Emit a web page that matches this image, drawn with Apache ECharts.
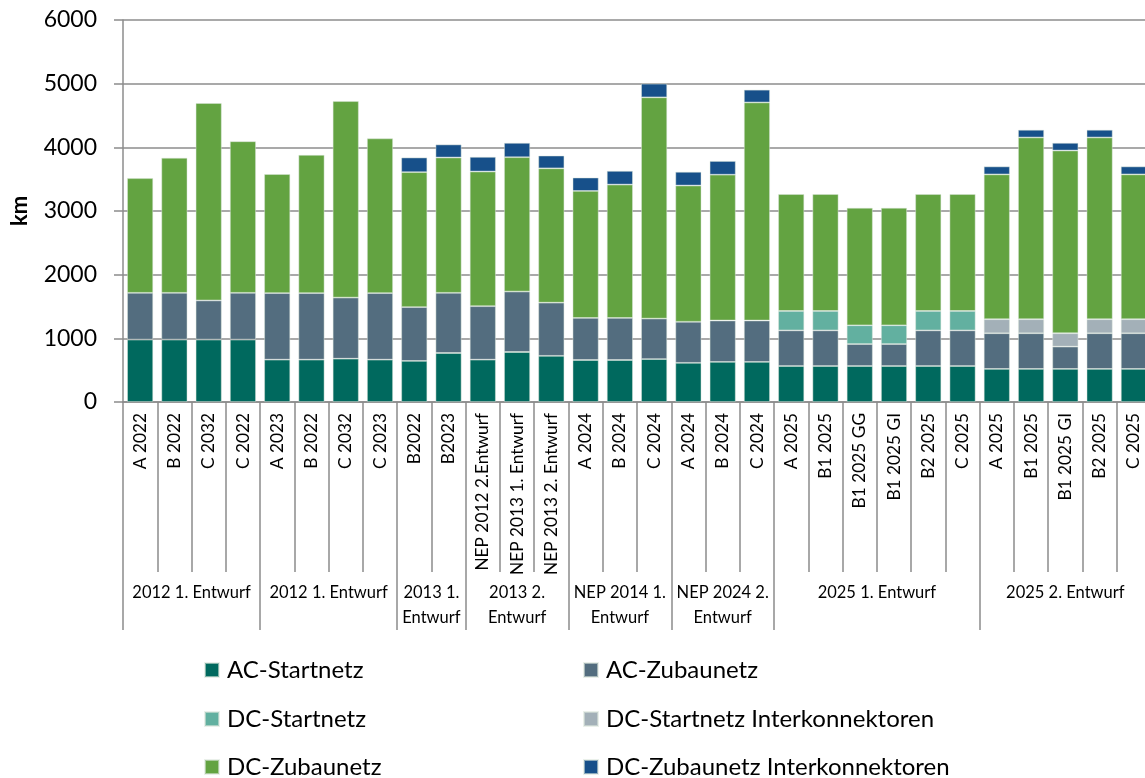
<!DOCTYPE html>
<html>
<head>
<meta charset="utf-8">
<script src="https://cdn.jsdelivr.net/npm/echarts@6/dist/echarts.min.js"></script>
<style>
html,body{margin:0;padding:0;background:#fff;}
#chart{width:1145px;height:778px;}
</style>
</head>
<body>
<div id="chart"></div>
<script>
const categories = ["A 2022","B 2022","C 2032","C 2022","A 2023","B 2022","C 2032","C 2023","B2022","B2023","NEP 2012 2.Entwurf","NEP 2013 1. Entwurf","NEP 2013 2. Entwurf","A 2024","B 2024","C 2024","A 2024","B 2024","C 2024","A 2025","B1 2025","B1 2025 GG","B1 2025 GI","B2 2025","C 2025","A 2025","B1 2025","B1 2025 GI","B2 2025","C 2025"];

const groupNames = ["2012 1. Entwurf","2012 1. Entwurf","2013 1.\nEntwurf","2013 2.\nEntwurf","NEP 2014 1.\nEntwurf","NEP 2024 2.\nEntwurf","2025 1. Entwurf","2025 2. Entwurf"];
const groupBounds = [0,4,8,10,13,16,19,25,30];

const acStart = [980,980,980,980,665,665,680,665,645,770,665,785,725,660,660,675,615,630,630,565,565,565,565,565,565,520,520,520,520,520];
const acZubau = [735,735,615,735,1045,1045,960,1045,845,945,840,950,835,660,660,635,645,650,650,560,560,345,345,560,560,560,560,350,560,560];
const dcStart = [null,null,null,null,null,null,null,null,null,null,null,null,null,null,null,null,null,null,null,305,305,295,295,305,305,null,null,null,null,null];
const dcStartIK = [null,null,null,null,null,null,null,null,null,null,null,null,null,null,null,null,null,null,null,null,null,null,null,null,null,220,220,210,220,220];
const dcZubau = [1800,2120,3100,2380,1870,2170,3085,2430,2120,2125,2115,2110,2110,1995,2095,3475,2140,2290,3425,1835,1835,1845,1845,1835,1835,2275,2855,2870,2855,2275];
const dcZubauIK = [null,null,null,null,null,null,null,null,230,205,230,225,200,210,215,215,215,215,200,null,null,null,null,null,null,125,120,120,120,125];

const yTicks = [0,1000,2000,3000,4000,5000,6000];

const seriesDefs = [
  {name:"AC-Startnetz", data:acStart, color:"#00695E"},
  {name:"AC-Zubaunetz", data:acZubau, color:"#536D7F"},
  {name:"DC-Startnetz", data:dcStart, color:"#62B0A0"},
  {name:"DC-Startnetz Interkonnektoren", data:dcStartIK, color:"#A3B0B8"},
  {name:"DC-Zubaunetz", data:dcZubau, color:"#63A341"},
  {name:"DC-Zubaunetz Interkonnektoren", data:dcZubauIK, color:"#17508A"}
];
// legend layout: [name, left, top]
const legendSlots = [
  ["AC-Startnetz",204,658],["AC-Zubaunetz",583,658],
  ["DC-Startnetz",204,707],["DC-Startnetz Interkonnektoren",583,707],
  ["DC-Zubaunetz",204,755],["DC-Zubaunetz Interkonnektoren",583,755]
];

const groupCenters = groupNames.map((n,i)=> (groupBounds[i]+groupBounds[i+1])/2);

const FONT = "Lato";
const gray = "#8C8C8C";

const chart = echarts.init(document.getElementById('chart'), null, {renderer:'canvas'});
chart.setOption({
  animation:false,
  textStyle:{fontFamily:FONT, color:"#000"},
  grid:{left:123, top:20, width:1028, height:382, outerBoundsMode:'none', containLabel:false},
  legend: legendSlots.map(l=>({
    left:l[1], top:l[2], padding:0, itemWidth:14, itemHeight:14, itemGap:0, icon:'rect',
    textStyle:{fontFamily:FONT, fontSize:24, color:"#000", lineHeight:20, padding:[0,0,0,3]},
    data:[l[0]]})),
  xAxis:[
    {type:'category', data:categories, gridIndex:0, position:'bottom',
     axisLine:{show:true, lineStyle:{color:gray, width:1.5}},
     axisTick:{show:true, interval:0, length:170, lineStyle:{color:gray, width:1.5}},
     axisLabel:{interval:0, rotate:90, margin:11, fontFamily:FONT, fontSize:17.3, color:"#000"}},
    {type:'value', min:0, max:30, gridIndex:0, position:'bottom', offset:170,
     axisLine:{show:false}, splitLine:{show:false},
     axisTick:{show:true, customValues:groupBounds, length:58, lineStyle:{color:gray, width:1.5}},
     axisLabel:{show:true, customValues:groupCenters, margin:8, fontFamily:FONT, fontSize:16.5, color:"#000", lineHeight:25,
       verticalAlign:'top',
       formatter:function(v){ const i = groupCenters.indexOf(v); return i>=0 ? groupNames[i] : ''; }}}
  ],
  yAxis:{type:'value', min:0, max:6000, interval:1000,
    name:'km', nameLocation:'middle', nameGap:92, nameRotate:90,
    nameTextStyle:{fontFamily:FONT, fontSize:22, fontWeight:'bold', color:"#000"},
    axisLine:{show:true, lineStyle:{color:gray, width:1.5}},
    axisTick:{show:true, length:9, lineStyle:{color:gray, width:1.5}},
    axisLabel:{margin:26, fontFamily:FONT, fontSize:23, color:"#000",
      formatter:function(v){ return yTicks.indexOf(v)>=0 ? String(v) : ''; }},
    splitLine:{show:true, lineStyle:{color:gray, width:1.5}}},
  series: seriesDefs.map(s=>({
    name:s.name, type:'bar', stack:'total', data:s.data, barCategoryGap:'24%',
    xAxisIndex:0, yAxisIndex:0,
    itemStyle:{color:s.color, borderColor:'rgba(220,230,220,0.6)', borderWidth:0.8}
  }))
});
</script>
</body>
</html>
